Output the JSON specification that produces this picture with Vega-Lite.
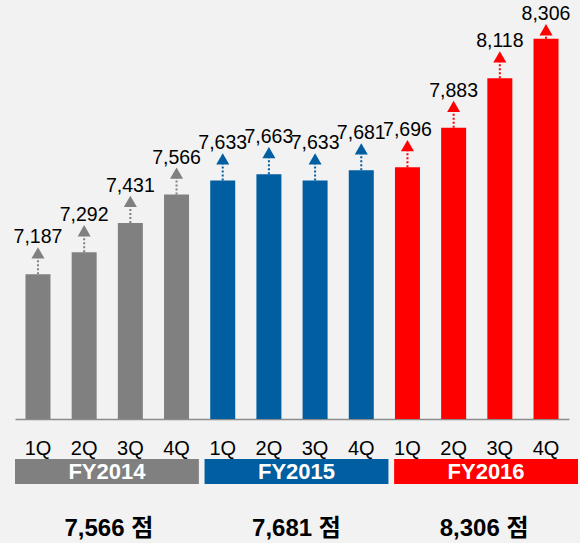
{
  "$schema": "https://vega.github.io/schema/vega-lite/v6.json",
  "background": "#f2f2f2",
  "padding": {"left": 13, "right": 2, "top": 0, "bottom": 9},
  "bounds": "flush",
  "spacing": 40,
  "config": {"view": {"stroke": null}, "font": "Liberation Sans, Noto Sans CJK KR"},
  "datasets": {
    "quarters": [
      {"id": "FY2014 1Q", "year": "FY2014", "value": 7187},
      {"id": "FY2014 2Q", "year": "FY2014", "value": 7292},
      {"id": "FY2014 3Q", "year": "FY2014", "value": 7431},
      {"id": "FY2014 4Q", "year": "FY2014", "value": 7566},
      {"id": "FY2015 1Q", "year": "FY2015", "value": 7633},
      {"id": "FY2015 2Q", "year": "FY2015", "value": 7663},
      {"id": "FY2015 3Q", "year": "FY2015", "value": 7633},
      {"id": "FY2015 4Q", "year": "FY2015", "value": 7681},
      {"id": "FY2016 1Q", "year": "FY2016", "value": 7696},
      {"id": "FY2016 2Q", "year": "FY2016", "value": 7883},
      {"id": "FY2016 3Q", "year": "FY2016", "value": 8118},
      {"id": "FY2016 4Q", "year": "FY2016", "value": 8306}
    ],
    "years": [
      {"year": "FY2014", "total": 7566},
      {"year": "FY2015", "total": 7681},
      {"year": "FY2016", "total": 8306}
    ]
  },
  "vconcat": [
    {
      "width": 554,
      "height": 419,
      "data": {"name": "quarters"},
      "encoding": {
        "x": {
          "field": "id",
          "type": "nominal",
          "sort": null,
          "scale": {"paddingInner": 0.4587, "paddingOuter": 0.227},
          "axis": {
            "title": null,
            "labelExpr": "split(datum.label, ' ')[1]",
            "labelAngle": 0,
            "ticks": false,
            "tickSize": 0,
            "labelPadding": 19,
            "labelFontSize": 20,
            "labelColor": "#000000",
            "labelFont": "Liberation Sans",
            "domainColor": "#8c8c8c",
            "domainWidth": 1.5
          }
        },
        "y": {
          "field": "value",
          "type": "quantitative",
          "scale": {"domain": [6500, 8490], "zero": false, "nice": false},
          "axis": null
        },
        "color": {
          "field": "year",
          "type": "nominal",
          "scale": {"domain": ["FY2014", "FY2015", "FY2016"], "range": ["#808080", "#005EA1", "#FF0000"]},
          "legend": null
        }
      },
      "layer": [
        {"mark": {"type": "bar"}, "encoding": {"y2": {"datum": 6500}}},
        {
          "mark": {"type": "rule", "strokeDash": [2, 2], "strokeWidth": 2, "y2Offset": {"expr": "datum.value > 8200 ? -5 : -17"}},
          "encoding": {"y2": {"field": "value"}}
        },
        {
          "mark": {"type": "point", "shape": "triangle-up", "filled": true, "opacity": 1, "size": 170, "yOffset": {"expr": "datum.value > 8200 ? -9 : -21.5"}}
        },
        {
          "mark": {"type": "text", "fontSize": 19.5, "baseline": "middle", "font": "Liberation Sans", "yOffset": {"expr": "datum.value > 8200 ? -24.5 : -37"}},
          "encoding": {"text": {"field": "value", "format": ","}, "color": {"value": "#000000"}}
        }
      ]
    },
    {
      "width": 563,
      "height": 25,
      "data": {"name": "years"},
      "encoding": {
        "x": {"field": "year", "type": "nominal", "sort": null, "scale": {"paddingInner": 0.03, "paddingOuter": 0}, "axis": null}
      },
      "layer": [
        {
          "mark": {"type": "bar"},
          "encoding": {
            "color": {
              "field": "year",
              "type": "nominal",
              "scale": {"domain": ["FY2014", "FY2015", "FY2016"], "range": ["#808080", "#005EA1", "#FF0000"]},
              "legend": null
            }
          }
        },
        {
          "mark": {"type": "text", "fontSize": 22, "fontWeight": "bold", "color": "#ffffff", "baseline": "middle", "font": "Liberation Sans"},
          "encoding": {"text": {"field": "year"}}
        }
      ]
    },
    {
      "width": 563,
      "height": 10,
      "data": {"name": "years"},
      "transform": [{"calculate": "format(datum.total, ',') + ' 점'", "as": "label"}],
      "mark": {"type": "text", "fontSize": 24, "fontWeight": "bold", "color": "#000000", "baseline": "middle"},
      "encoding": {
        "x": {"field": "year", "type": "nominal", "sort": null, "scale": {"paddingInner": 0.03, "paddingOuter": 0}, "axis": null},
        "text": {"field": "label"}
      }
    }
  ]
}
